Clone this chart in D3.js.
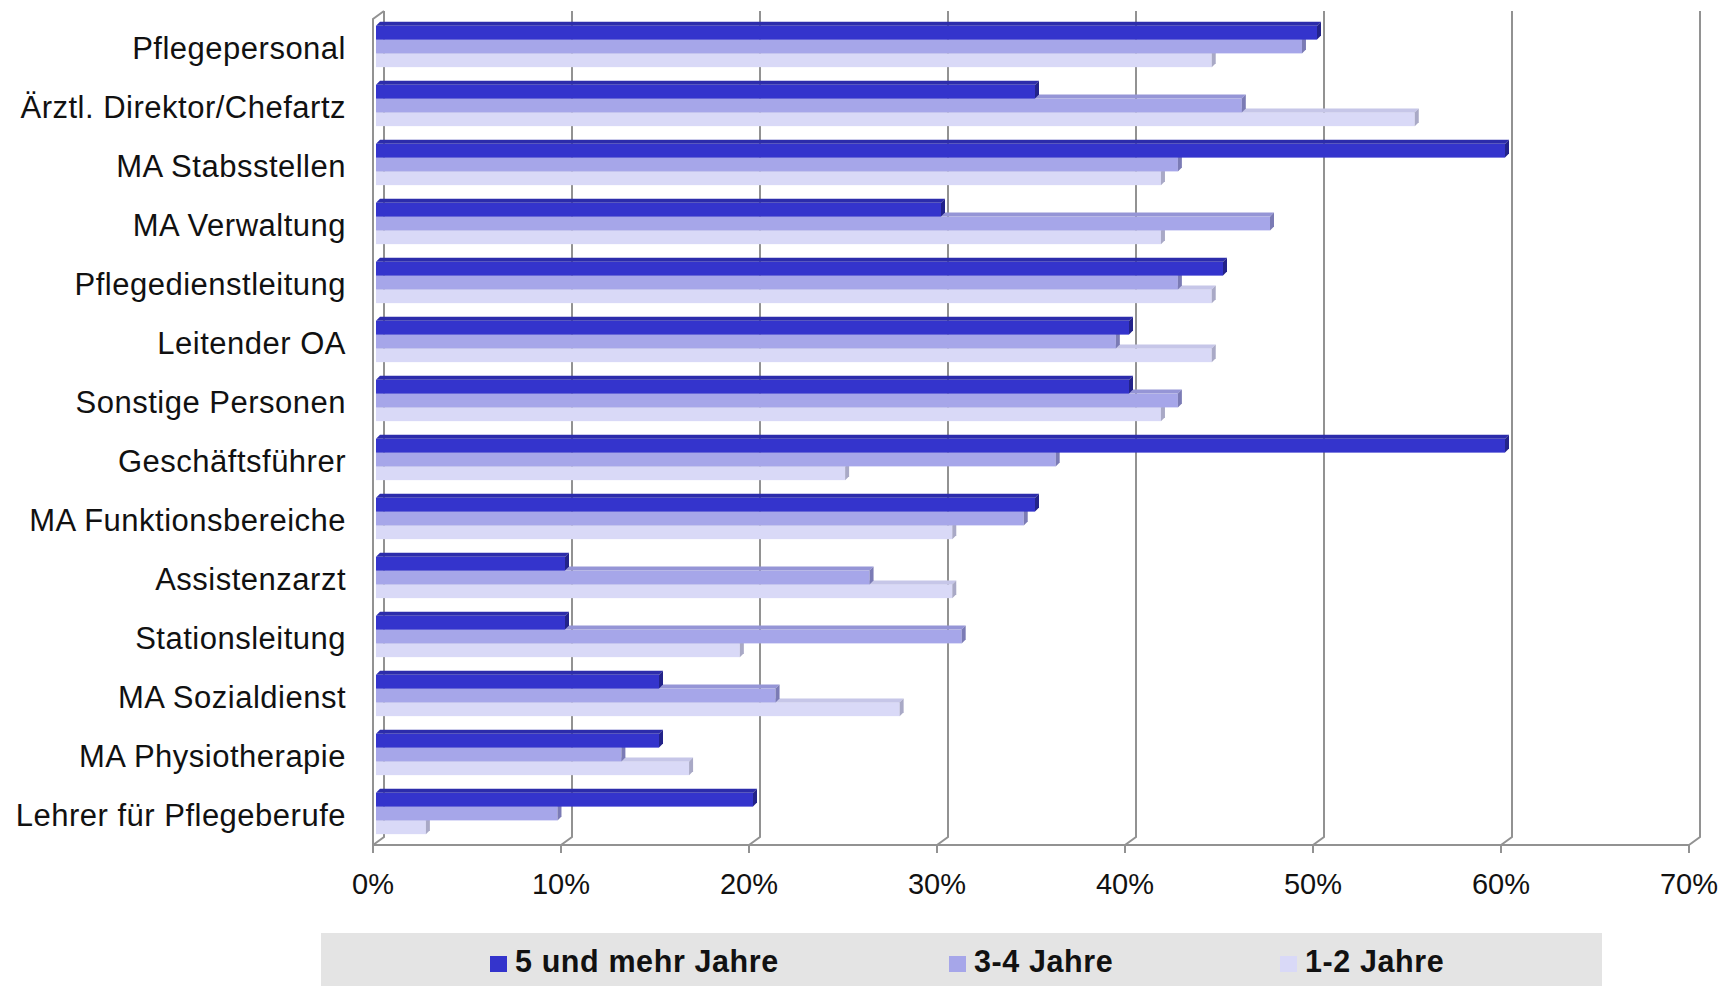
<!DOCTYPE html>
<html>
<head>
<meta charset="utf-8">
<script src="https://cdn.jsdelivr.net/npm/d3@7"></script>
<style>
  body { margin: 0; background: #fff; }
  svg { display: block; }
  text { font-family: "Liberation Sans", Arial, sans-serif; fill: #111; }
</style>
</head>
<body>
<div id="chart"></div>
<script>
let categories = ["Pflegepersonal", "Ärztl. Direktor/Chefartz", "MA Stabsstellen", "MA Verwaltung",
  "Pflegedienstleitung", "Leitender OA", "Sonstige Personen", "Geschäftsführer",
  "MA Funktionsbereiche", "Assistenzarzt", "Stationsleitung", "MA Sozialdienst",
  "MA Physiotherapie", "Lehrer für Pflegeberufe"]
let seriesNames = ["5 und mehr Jahre", "3-4 Jahre", "1-2 Jahre"]
let fuenfUndMehr = [50.0, 35.0, 60.0, 30.0, 45.0, 40.0, 40.0, 60.0, 35.0, 10.0, 10.0, 15.0, 15.0, 20.0]
let dreiVier = [49.2, 46.0, 42.6, 47.5, 42.6, 39.3, 42.6, 36.1, 34.4, 26.2, 31.1, 21.2, 13.0, 9.6]
let einsZwei = [44.4, 55.2, 41.7, 41.7, 44.4, 44.4, 41.7, 24.9, 30.6, 30.6, 19.3, 27.8, 16.6, 2.6]
let tickValues = [0, 10, 20, 30, 40, 50, 60, 70]

let front = ["#3434cc", "#a6a6e9", "#d9d9f7"]
let topFace = ["#2c2cab", "#9595d6", "#c6c6e8"]
let endFace = ["#23238a", "#7b7bb5", "#a9a9c6"]

let width = 1726, height = 986
let plotLeft = 373, plotRight = 1689, plotTop = 19, plotBottom = 845
let dx = 11, dy = -8   // wall depth
let cd = 4             // bar depth
let barShift = 4       // bars sit a bit behind the front plane

let svg = d3.select("#chart").append("svg")
  .attr("width", width)
  .attr("height", height)

let x = d3.scaleLinear().domain([0, 70]).range([plotLeft, plotRight])
let y = d3.scaleBand().domain(categories).range([plotTop, plotBottom])
  .paddingInner(0.3).paddingOuter(0.15)
let ys = d3.scaleBand().domain(seriesNames).range([0, y.bandwidth()])

let grid = svg.append("g")
  .attr("fill", "none")
  .attr("stroke", "#929292")
  .attr("stroke-width", 2)

// back grid lines with bend to the floor
grid.selectAll("path.gl")
  .data(tickValues)
  .join("path")
  .attr("class", "gl")
  .attr("d", t => `M${x(t) + dx},${plotTop + dy} L${x(t) + dx},${plotBottom + dy} L${x(t)},${plotBottom}`)

// left wall edge
grid.append("path")
  .attr("d", `M${plotLeft + dx},${plotTop + dy} L${plotLeft},${plotTop} L${plotLeft},${plotBottom}`)

// floor front edge + ticks
grid.append("path")
  .attr("d", `M${x(0)},${plotBottom} L${x(70)},${plotBottom}`)
grid.selectAll("path.tk")
  .data(tickValues)
  .join("path")
  .attr("class", "tk")
  .attr("d", t => `M${x(t)},${plotBottom} L${x(t)},${plotBottom + 8}`)

// bars, lower series first so the upper one covers its top face
let rows = []
categories.forEach((c, i) => {
  let vals = [fuenfUndMehr[i], dreiVier[i], einsZwei[i]]
  for (let s = 2; s >= 0; s--) rows.push({ cat: c, s: s, v: vals[s] })
})

let bars = svg.append("g")
  .selectAll("g")
  .data(rows)
  .join("g")
  .attr("transform", d => `translate(0,${y(d.cat) + ys(seriesNames[d.s]) - 2})`)

let h = ys.bandwidth()
let x0 = x(0) + 3
let xe = v => x(v) + barShift

bars.append("rect")
  .attr("x", x0)
  .attr("y", 0)
  .attr("width", d => xe(d.v) - x0)
  .attr("height", h)
  .attr("fill", d => front[d.s])

bars.append("path")
  .attr("d", d => `M${x0},0 L${xe(d.v)},0 L${xe(d.v) + cd},${-cd} L${x0 + cd},${-cd}Z`)
  .attr("fill", d => topFace[d.s])

bars.append("path")
  .attr("d", d => `M${xe(d.v)},0 L${xe(d.v) + cd},${-cd} L${xe(d.v) + cd},${h - cd} L${xe(d.v)},${h}Z`)
  .attr("fill", d => endFace[d.s])

// category labels
svg.append("g")
  .selectAll("text")
  .data(categories)
  .join("text")
  .attr("x", 346)
  .attr("y", d => y(d) + y.bandwidth() / 2)
  .attr("dy", "0.35em")
  .attr("text-anchor", "end")
  .style("font-size", "31px")
  .style("letter-spacing", "0.5px")
  .text(d => d)

// tick labels
svg.append("g")
  .selectAll("text")
  .data(tickValues)
  .join("text")
  .attr("x", d => x(d))
  .attr("y", 884)
  .attr("dy", "0.35em")
  .attr("text-anchor", "middle")
  .style("font-size", "29px")
  .text(d => d + "%")

// legend
let legend = svg.append("g")
legend.append("rect")
  .attr("x", 321).attr("y", 933)
  .attr("width", 1281).attr("height", 60)
  .attr("fill", "#e4e4e4")

let legendX = [490, 949, 1280]
let items = legend.selectAll("g")
  .data(seriesNames)
  .join("g")
  .attr("transform", (d, i) => `translate(${legendX[i]},0)`)

items.append("rect")
  .attr("x", 0).attr("y", 956)
  .attr("width", 17).attr("height", 16)
  .attr("fill", (d, i) => front[i])

items.append("text")
  .attr("x", 25)
  .attr("y", 972)
  .style("font-size", "30.5px")
  .style("font-weight", "bold")
  .style("letter-spacing", "0.6px")
  .text(d => d)
</script>
</body>
</html>
